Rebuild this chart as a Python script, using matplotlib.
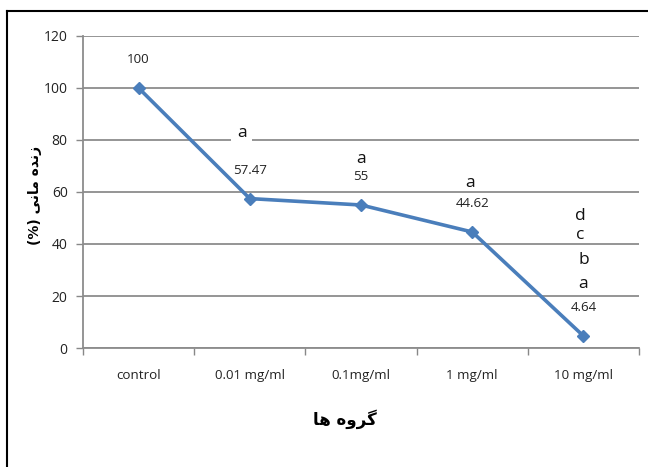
import matplotlib
matplotlib.use("Agg")
import matplotlib.pyplot as plt
from matplotlib import font_manager
from matplotlib.lines import Line2D

# ---- data ----
categories = ["control", "0.01 mg/ml", "0.1mg/ml", "1 mg/ml", "10 mg/ml"]
values = [100, 57.47, 55, 44.62, 4.64]
value_labels = ["100", "57.47", "55", "44.62", "4.64"]
letters = [[], ["a"], ["a"], ["a"], ["a", "b", "c", "d"]]
yticks = [0, 20, 40, 60, 80, 100, 120]
# Persian labels in visual order (presentation forms)
xlabel_text = "\uFE8E\uFEEB \uFEE9\uFEED\uFEAE\uFB94"          # گروه ها
ylabel_text = "(%) \uFBFD\uFEE7\uFE8E\uFEE3 \uFEE9\uFEAA\uFEE7\uFEAF"  # زنده مانی (%)

names = {f.name for f in font_manager.fontManager.ttflist}
main_font = "Liberation Sans Narrow" if "Liberation Sans Narrow" in names else "Open Sans"
plt.rcParams["font.family"] = [main_font, "DejaVu Sans"]

fig = plt.figure(figsize=(6.48, 4.67), dpi=100)
ax = fig.add_axes([83 / 648, 1 - 348 / 467, (639 - 83) / 648, (348 - 36) / 467])

x = list(range(len(categories)))
ax.plot(x, values, color="#4A7EBB", lw=2.6, marker="D", ms=6, zorder=3)

ax.set_xlim(-0.5, len(categories) - 0.5)
ax.set_ylim(0, 120)
ax.set_yticks(yticks)
ax.set_yticklabels([str(v) for v in yticks], fontsize=10, color="#222222")
ax.set_xticks(x)
ax.set_xticklabels(categories, fontsize=9.6, color="#222222")
ax.set_xticks([i - 0.5 for i in range(len(categories) + 1)], minor=True)
ax.tick_params(axis="x", which="major", length=0, pad=15)
ax.tick_params(axis="x", which="minor", length=5, width=1, color="#888888", direction="out")
ax.tick_params(axis="y", length=5, width=1, color="#888888", direction="out", pad=6)

ax.grid(axis="y", color="#8C8C8C", lw=1.3)
ax.set_axisbelow(True)
for s in ["top", "right"]:
    ax.spines[s].set_visible(False)
for s in ["left", "bottom"]:
    ax.spines[s].set_color("#8C8C8C")
    ax.spines[s].set_linewidth(1.3)

# value labels
for i, (v, lab) in enumerate(zip(values, value_labels)):
    ax.annotate(lab, xy=(i, v), xytext=(0, 28), textcoords="offset pixels",
                ha="center", va="center", fontsize=9.6, color="#222222")

# letters
letter_offsets = {1: [66], 2: [46], 3: [49], 4: [52, 76, 101, 120]}
letter_dx = {1: [-8], 2: [0], 3: [-2], 4: [0, 0, -3, -3]}
for i, ls in enumerate(letters):
    for j, L in enumerate(ls):
        bbox = dict(facecolor="white", edgecolor="none", pad=4) if i == 1 else None
        ax.annotate(L, xy=(i, values[i]), xytext=(letter_dx[i][j], letter_offsets[i][j]),
                    textcoords="offset pixels", ha="center", va="center",
                    fontsize=12.5, color="#111111", bbox=bbox, zorder=4)

ax.set_xlabel(xlabel_text, family="DejaVu Sans", fontsize=12, fontweight="bold")
ax.xaxis.set_label_coords((345 - 83) / 556, -(419 - 348) / 312)
ax.xaxis.label.set_va("center")
ax.set_ylabel(ylabel_text, family="DejaVu Sans", fontsize=10, fontweight="bold")
ax.yaxis.set_label_coords(-(83 - 35) / 556, (348 - 195) / 312)
ax.yaxis.label.set_va("center")

# partial frame (top and left)
fig.add_artist(Line2D([7 / 648, 7 / 648], [0, 1 - 11 / 467], color="black", lw=1.5,
                      transform=fig.transFigure))
fig.add_artist(Line2D([7 / 648, 1], [1 - 11 / 467, 1 - 11 / 467], color="black", lw=1.5,
                      transform=fig.transFigure))

fig.savefig("out.png", dpi=100)
